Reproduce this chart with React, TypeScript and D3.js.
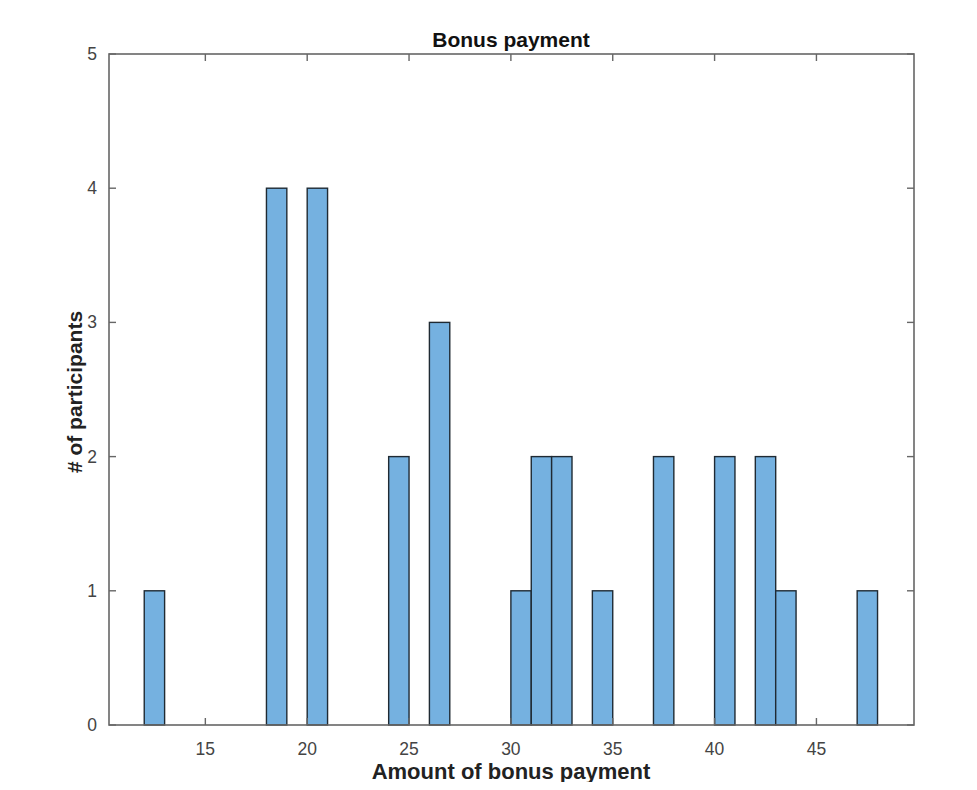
import React, { useEffect, useRef } from "react";
import * as d3 from "d3";

// histogram bins: left edge of each bin (width 1) and its count
const binStarts = [12, 18, 20, 24, 26, 30, 31, 32, 34, 37, 40, 42, 43, 47];
const binCounts = [1, 4, 4, 2, 3, 1, 2, 2, 1, 2, 2, 2, 1, 1];
const binWidth = 1;
const xTicks = [15, 20, 25, 30, 35, 40, 45];
const yTicks = [0, 1, 2, 3, 4, 5];

const App = () => {
  const ref = useRef<SVGSVGElement>(null);

  useEffect(() => {
    const width = 977;
    const height = 790;
    const left = 109;
    const right = 914;
    const top = 54;
    const bottom = 725;
    const svg = d3.select(ref.current);
    svg.selectAll("*").remove();

    const x = d3.scaleLinear().domain([10.27, 49.79]).range([left, right]);
    const y = d3.scaleLinear().domain([0, 5]).range([bottom, top]);
    const font = "'Liberation Sans', Arial, sans-serif";
    const axisColor = "#666";
    const tickLen = 7;

    svg.attr("width", width).attr("height", height);

    const data = binStarts.map((s, i) => ({ start: s, count: binCounts[i] }));

    // bars
    svg
      .append("g")
      .selectAll("rect")
      .data(data)
      .enter()
      .append("rect")
      .attr("x", (d) => x(d.start))
      .attr("y", (d) => y(d.count))
      .attr("width", (d) => x(d.start + binWidth) - x(d.start))
      .attr("height", (d) => y(0) - y(d.count))
      .attr("fill", "#75b1e0")
      .attr("stroke", "#1f2a33")
      .attr("stroke-width", 1.4);

    // box
    svg
      .append("rect")
      .attr("x", left)
      .attr("y", top)
      .attr("width", right - left)
      .attr("height", bottom - top)
      .attr("fill", "none")
      .attr("stroke", axisColor)
      .attr("stroke-width", 1.6);

    // x ticks (inward, top and bottom)
    const xt = svg.append("g");
    xTicks.forEach((t) => {
      xt.append("line")
        .attr("x1", x(t)).attr("x2", x(t))
        .attr("y1", bottom).attr("y2", bottom - tickLen)
        .attr("stroke", axisColor).attr("stroke-width", 1.4);
      xt.append("line")
        .attr("x1", x(t)).attr("x2", x(t))
        .attr("y1", top).attr("y2", top + tickLen)
        .attr("stroke", axisColor).attr("stroke-width", 1.4);
      xt.append("text")
        .attr("x", x(t))
        .attr("y", bottom + 30)
        .attr("text-anchor", "middle")
        .attr("font-family", font)
        .attr("font-size", 17.5)
        .attr("fill", "#444")
        .text(t);
    });

    // y ticks (inward, left and right)
    const yt = svg.append("g");
    yTicks.forEach((t) => {
      yt.append("line")
        .attr("x1", left).attr("x2", left + tickLen)
        .attr("y1", y(t)).attr("y2", y(t))
        .attr("stroke", axisColor).attr("stroke-width", 1.4);
      yt.append("line")
        .attr("x1", right).attr("x2", right - tickLen)
        .attr("y1", y(t)).attr("y2", y(t))
        .attr("stroke", axisColor).attr("stroke-width", 1.4);
      yt.append("text")
        .attr("x", left - 12)
        .attr("y", y(t) + 6)
        .attr("text-anchor", "end")
        .attr("font-family", font)
        .attr("font-size", 17.5)
        .attr("fill", "#444")
        .text(t);
    });

    // title and axis labels
    svg.append("text")
      .attr("x", 511)
      .attr("y", 47)
      .attr("text-anchor", "middle")
      .attr("font-family", font)
      .attr("font-size", 21)
      .attr("font-weight", "bold")
      .attr("fill", "#111")
      .text("Bonus payment");

    svg.append("text")
      .attr("x", 511)
      .attr("y", 779)
      .attr("text-anchor", "middle")
      .attr("font-family", font)
      .attr("font-size", 22)
      .attr("font-weight", "bold")
      .attr("fill", "#222")
      .text("Amount of bonus payment");

    svg.append("text")
      .attr("transform", `translate(82, 392) rotate(-90)`)
      .attr("text-anchor", "middle")
      .attr("font-family", font)
      .attr("font-size", 21)
      .attr("font-weight", "bold")
      .attr("fill", "#222")
      .text("# of participants");
  }, []);

  return (
    <div style={{ margin: -8 }}>
      <svg ref={ref} style={{ display: "block" }}></svg>
    </div>
  );
};

export default App;
